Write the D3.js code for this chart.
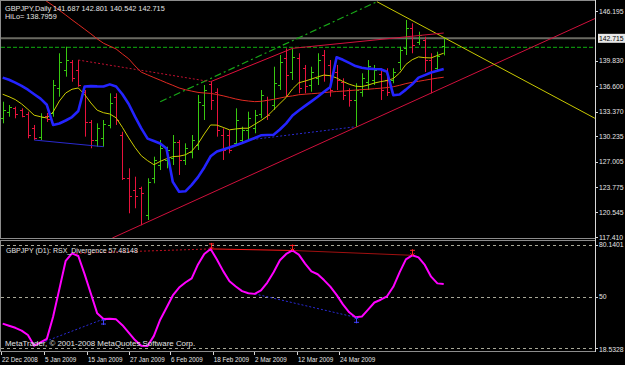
<!DOCTYPE html>
<html>
<head>
<meta charset="utf-8">
<title>GBPJPY Daily</title>
<script src="https://cdn.jsdelivr.net/npm/d3@7"></script>
<style>
  body { margin: 0; background: #000; }
  svg { display: block; }
  text { font-family: "Liberation Sans", Arial, sans-serif; fill: #e4e4e4; }
</style>
</head>
<body>
<svg width="625" height="365"></svg>
<script>
// ---- data ----
var dateLabels = ["22 Dec 2008","5 Jan 2009","15 Jan 2009","27 Jan 2009","6 Feb 2009","18 Feb 2009","2 Mar 2009","12 Mar 2009","24 Mar 2009"];
var dateTickBars = [-0.27, 6.56, 13.37, 20.05, 26.56, 33.33, 39.89, 46.71, 53.38];

var priceTicks = [146.195, 139.830, 136.600, 133.370, 130.235, 127.005, 123.775, 120.545, 117.410];
var bidPrice = 142.715;
var greenLevel = 141.57;

var barOpen = [132.57,133.33,133.84,133.59,133.08,131.29,130.15,132.82,133.20,136.39,
  138.68,139.70,138.68,135.88,132.06,129.76,130.02,131.68,135.24,130.40,
  124.92,123.40,123.65,120.21,124.92,126.58,127.22,127.47,129.51,127.22,
  128.24,129.13,134.22,136.90,135.88,130.40,130.40,129.38,129.76,131.04,
  131.29,133.08,134.86,134.22,136.77,140.21,138.43,140.21,138.94,136.77,
  137.66,140.59,139.32,138.43,137.15,136.13,134.86,135.88,137.15,137.41,
  138.17,137.41,137.41,139.70,141.48,144.03,142.25,142.50,139.95,138.94,141.687];
var barHigh = [134.64,134.22,134.01,133.80,133.37,131.68,133.17,133.20,137.41,140.81,
  141.65,139.95,139.95,136.13,132.31,131.89,132.31,135.71,135.71,130.82,
  126.16,125.09,123.82,124.89,127.64,129.76,128.91,130.40,129.76,129.34,
  130.40,135.50,136.77,137.19,136.35,131.25,131.04,133.80,131.46,133.37,
  133.59,136.13,135.28,139.10,140.59,141.44,141.44,140.81,139.32,139.10,
  140.81,141.23,139.95,139.32,137.62,136.35,136.99,138.26,139.95,139.32,
  138.90,138.90,138.90,141.65,145.05,144.63,143.56,142.92,140.81,141.01,142.801];
var barLow = [131.89,132.73,132.53,132.66,129.98,129.76,129.76,132.06,132.73,135.28,
  137.83,137.19,136.55,130.19,128.71,128.91,128.91,131.25,131.68,124.67,
  120.43,121.07,118.90,119.58,124.25,125.94,126.16,126.58,125.31,126.58,
  127.43,128.49,132.31,133.59,130.19,127.22,128.07,129.13,129.34,129.76,
  130.62,132.53,132.31,133.59,136.13,135.28,137.41,135.71,135.71,135.92,
  136.77,137.19,135.28,136.13,134.86,134.01,131.45,135.28,136.13,136.77,
  134.86,135.37,136.99,138.68,140.59,140.81,141.86,138.43,135.71,138.43,140.542];
var barClose = [133.59,133.97,133.08,132.82,130.40,130.02,132.69,132.44,136.77,139.70,
  139.95,137.66,136.77,132.10,129.76,131.29,131.80,134.48,132.31,124.92,
  122.63,122.63,123.01,124.42,127.22,128.75,128.49,129.51,127.22,128.75,
  129.76,134.60,136.13,134.86,131.04,128.49,128.49,132.31,131.04,132.57,
  132.95,135.50,132.95,137.02,139.70,138.04,140.34,136.39,136.64,138.43,
  139.95,138.04,136.13,137.41,135.50,134.86,136.13,137.66,139.19,138.68,
  136.13,135.88,138.43,141.23,144.03,141.86,143.14,139.95,138.43,140.46,142.715];

var maRed = [null,null,null,null,null,null,147.98,147.42,146.88,146.28,
  145.69,145.07,144.48,143.88,143.28,142.65,142.09,141.72,141.36,140.72,
  140.11,139.20,138.41,138.06,137.72,137.39,137.05,136.73,136.39,136.17,
  135.99,135.83,135.75,135.70,135.56,135.39,135.19,134.99,134.83,134.73,
  134.65,134.69,134.81,134.94,135.11,135.27,135.38,135.53,135.60,135.66,
  135.72,135.80,135.88,135.94,135.99,136.06,136.12,136.18,136.23,136.30,
  136.36,136.44,136.55,136.73,136.95,137.11,137.24,137.38,137.52,137.65,137.76];
var maYellow = [135.59,135.28,134.91,134.36,133.67,132.92,132.73,132.57,133.33,134.73,
  135.75,136.23,136.39,135.57,134.48,133.56,133.24,133.08,132.59,131.38,
  130.04,128.81,127.76,127.13,126.62,127.04,127.38,127.65,127.70,127.88,
  128.33,129.28,130.54,131.68,131.66,131.37,131.06,131.17,131.26,131.26,
  131.76,132.25,132.81,133.61,134.41,135.19,136.27,137.05,137.27,137.53,
  137.80,138.04,137.95,137.67,137.22,136.87,136.62,136.57,136.76,137.02,
  137.20,137.33,137.59,138.30,139.39,139.99,140.35,140.25,140.22,140.53,140.82];
var hiLo = [137.71,137.44,137.08,136.66,136.17,135.60,135.03,134.25,131.68,131.87,
  132.25,132.69,133.46,136.57,136.63,136.59,136.57,136.85,136.58,135.59,
  134.35,132.75,131.24,129.94,129.64,129.32,128.68,124.43,123.18,123.23,
  124.05,125.04,126.27,127.69,128.29,128.55,128.82,129.09,129.38,129.69,
  130.02,130.36,130.40,130.43,131.10,131.89,132.89,133.53,134.11,134.69,
  135.28,135.90,136.52,140.31,139.98,139.58,139.18,138.96,138.85,138.80,
  138.78,138.45,135.47,135.55,136.18,136.86,137.71,138.03,138.36,138.59,138.7959];

var rsx = [34.4,33.2,32.0,30.4,27.8,21.6,23.5,25.5,38.4,54.6,
  70.9,75.2,73.7,63.2,51.8,40.4,37.1,37.3,36.9,33.5,
  29.2,24.9,21.6,21.4,27.3,36.7,43.6,50.8,55.4,58.3,
  60.7,68.8,74.9,77.8,71.7,64.9,59.0,56.0,53.3,52.1,
  51.7,53.8,58.3,64.3,71.2,74.9,76.9,74.5,69.3,64.8,
  63.1,59.7,55.9,51.1,45.6,41.0,38.1,38.5,42.6,46.7,
  48.3,50.3,55.8,64.2,71.7,74.1,72.9,68.5,61.7,57.8,57.48148];
var rsxLevels = [80, 50, 20];
var rsxMin = 18.5328, rsxMax = 80.1401;

// trendlines and divergence lines: [bar, price]
var trendLower = [[17.4, 117.28], [94.0, 145.23]];
var trendGreen = [[25.0, 134.64], [59.4, 147.38]];
var trendYellow = [[59.4, 147.38], [94.0, 132.53]];
var divPriceDotted = [[12, 139.95], [33, 137.19]];
var divPriceA = [[33, 137.19], [46, 141.44]];
var divPriceB = [[46, 141.44], [70, 143.39]];
var divPriceBlueA = [[5, 129.76], [16, 128.91]];
var divPriceBlueB = [[39, 129.76], [56, 131.45]];
var divRsxDotted = [[11, 75.2], [33, 77.8]];
var divRsxA = [[33, 77.8], [46, 76.9]];
var divRsxB = [[46, 76.9], [65, 74.1]];
var divRsxBlueA = [[5, 21.6], [16, 37.1]];
var divRsxBlueB = [[40, 51.7], [56, 38.1]];

// ---- drawing ----
var svg = d3.select("svg");
svg.append("rect").attr("width", 625).attr("height", 365).attr("fill", "#000");

var x = d3.scaleLinear().domain([0, 70]).range([2.7, 443.7]);
var y = d3.scaleLinear().domain([117.41, 146.195]).range([237, 11]);
var yr = d3.scaleLinear().domain([rsxMin, rsxMax]).range([351, 244.9]);

var defs = svg.append("defs");
defs.append("clipPath").attr("id", "clipMain").append("rect")
    .attr("x", 1).attr("y", 1).attr("width", 594).attr("height", 237);
defs.append("clipPath").attr("id", "clipRsx").append("rect")
    .attr("x", 1).attr("y", 241).attr("width", 594).attr("height", 110);

var main = svg.append("g").attr("clip-path", "url(#clipMain)");
var lower = svg.append("g").attr("clip-path", "url(#clipRsx)");

function seg(g, pts, sc, color, width, dash) {
  var l = g.append("line")
      .attr("x1", x(pts[0][0])).attr("y1", sc(pts[0][1]))
      .attr("x2", x(pts[1][0])).attr("y2", sc(pts[1][1]))
      .attr("stroke", color).attr("stroke-width", width || 1);
  if (dash) l.attr("stroke-dasharray", dash);
  return l;
}

// horizontal lines
main.append("line").attr("x1", 1).attr("x2", 595)
    .attr("y1", y(greenLevel)).attr("y2", y(greenLevel))
    .attr("stroke", "#10b010").attr("stroke-dasharray", "4,2");
main.append("line").attr("x1", 1).attr("x2", 595)
    .attr("y1", y(bidPrice)).attr("y2", y(bidPrice))
    .attr("stroke", "#6a6a62").attr("stroke-width", 2);

// OHLC bars
var bars = main.selectAll(".bar")
    .data(barOpen.map(function(o, i) {
      return {i: i, o: o, h: barHigh[i], l: barLow[i], c: barClose[i]};
    }))
    .enter().append("g")
    .attr("class", "bar")
    .attr("stroke", function(d) { return d.c >= d.o ? "#38c810" : "#e8123c"; })
    .attr("stroke-width", 1);

bars.append("line")
    .attr("x1", function(d) { return Math.round(x(d.i)) + 0.5; })
    .attr("x2", function(d) { return Math.round(x(d.i)) + 0.5; })
    .attr("y1", function(d) { return y(d.h); })
    .attr("y2", function(d) { return y(d.l); });
bars.append("line")
    .attr("x1", function(d) { return Math.round(x(d.i)) - 2; })
    .attr("x2", function(d) { return Math.round(x(d.i)); })
    .attr("y1", function(d) { return Math.round(y(d.o)) + 0.5; })
    .attr("y2", function(d) { return Math.round(y(d.o)) + 0.5; });
bars.append("line")
    .attr("x1", function(d) { return Math.round(x(d.i)) + 1; })
    .attr("x2", function(d) { return Math.round(x(d.i)) + 3; })
    .attr("y1", function(d) { return Math.round(y(d.c)) + 0.5; })
    .attr("y2", function(d) { return Math.round(y(d.c)) + 0.5; });

// indicator lines
var priceLine = d3.line()
    .defined(function(d) { return d != null; })
    .x(function(d, i) { return x(i); })
    .y(function(d) { return y(d); });

main.append("path").attr("d", priceLine(maRed))
    .attr("fill", "none").attr("stroke", "#e02a22").attr("stroke-width", 1);
main.append("path").attr("d", priceLine(maYellow))
    .attr("fill", "none").attr("stroke", "#cccc00").attr("stroke-width", 1);
main.append("path").attr("d", priceLine(hiLo))
    .attr("fill", "none").attr("stroke", "#2424ff").attr("stroke-width", 2.6)
    .attr("stroke-linejoin", "round");

// trendlines
seg(main, trendLower, y, "#d0103c", 1);
seg(main, trendGreen, y, "#18a818", 1.2, "7,3,2,3");
seg(main, trendYellow, y, "#c8c800", 1);

// divergence lines on price
seg(main, divPriceDotted, y, "#c01030", 1, "2,2");
seg(main, divPriceA, y, "#e0103c", 1);
seg(main, divPriceB, y, "#d0103c", 1);
seg(main, divPriceBlueA, y, "#2a2ad0", 1);
seg(main, divPriceBlueB, y, "#2a2ad0", 1, "2,2");

// RSX panel
lower.selectAll(".lvl").data(rsxLevels).enter().append("line")
    .attr("x1", 1).attr("x2", 595)
    .attr("y1", function(d) { return Math.round(yr(d)) + 0.5; })
    .attr("y2", function(d) { return Math.round(yr(d)) + 0.5; })
    .attr("stroke", "#a8a898").attr("stroke-dasharray", "3,3");

seg(lower, divRsxDotted, yr, "#c01020", 1, "2,2");
seg(lower, divRsxA, yr, "#ff1818", 1);
seg(lower, divRsxB, yr, "#a01010", 1);
seg(lower, divRsxBlueA, yr, "#2a2ad8", 1, "2,2");
seg(lower, divRsxBlueB, yr, "#2a2ad8", 1, "2,2");

var rsxLine = d3.line()
    .x(function(d, i) { return x(i); })
    .y(function(d) { return yr(d); });
lower.append("path").attr("d", rsxLine(rsx))
    .attr("fill", "none").attr("stroke", "#ff00ff").attr("stroke-width", 2)
    .attr("stroke-linejoin", "round");

// divergence markers
[divRsxA[0], divRsxA[1], divRsxB[1]].forEach(function(p) {
  var cx = Math.round(x(p[0])) + 0.5, cy = yr(p[1]);
  lower.append("path")
      .attr("d", "M" + (cx - 2.5) + "," + (cy - 5) + "h5M" + cx + "," + (cy - 6) + "v6M" +
            (cx - 2) + "," + (cy - 2) + "l2,2l2,-2")
      .attr("fill", "none").attr("stroke", "#ff2020").attr("stroke-width", 1);
});
[divRsxBlueA[1], divRsxBlueB[1]].forEach(function(p) {
  var cx = Math.round(x(p[0])) + 0.5, cy = yr(p[1]);
  lower.append("path")
      .attr("d", "M" + (cx - 2.5) + "," + (cy + 5) + "h5M" + cx + "," + (cy + 6) + "v-6M" +
            (cx - 2) + "," + (cy + 2) + "l2,-2l2,2")
      .attr("fill", "none").attr("stroke", "#4040ff").attr("stroke-width", 1);
});

// frames
svg.append("rect").attr("x", 0.5).attr("y", 0.5).attr("width", 595).attr("height", 238)
    .attr("fill", "none").attr("stroke", "#8c8c8c");
svg.append("rect").attr("x", 0.5).attr("y", 240.5).attr("width", 595).attr("height", 111)
    .attr("fill", "none").attr("stroke", "#8c8c8c");
svg.append("line").attr("x1", 595.5).attr("x2", 595.5).attr("y1", 0).attr("y2", 352)
    .attr("stroke", "#d8d8d8");

// price axis
var pAxis = svg.append("g");
pAxis.selectAll(".pt").data(priceTicks).enter().append("line")
    .attr("x1", 596).attr("x2", 598)
    .attr("y1", function(d) { return Math.round(y(d)) + 0.5; })
    .attr("y2", function(d) { return Math.round(y(d)) + 0.5; })
    .attr("stroke", "#d8d8d8");
pAxis.selectAll(".pl").data(priceTicks).enter().append("text")
    .attr("x", 599).attr("y", function(d) { return y(d) + 2.5; })
    .style("font-size", "6.8px")
    .text(function(d) { return d.toFixed(3); });
pAxis.append("rect").attr("x", 598).attr("y", y(bidPrice) - 4.5)
    .attr("width", 27).attr("height", 9).attr("fill", "#e8e8e8");
pAxis.append("text").attr("x", 599).attr("y", y(bidPrice) + 2.5)
    .style("font-size", "6.8px").style("fill", "#000")
    .text(bidPrice.toFixed(3));

// RSX axis: window max/min labels (the 80/20 level labels sit underneath them)
var rAxis = svg.append("g");
rsxLevels.forEach(function(v) {
  rAxis.append("line").attr("x1", 596).attr("x2", 598)
      .attr("y1", Math.round(yr(v)) + 0.5).attr("y2", Math.round(yr(v)) + 0.5)
      .attr("stroke", "#d8d8d8");
});
[[rsxMax, rsxMax.toFixed(4)], [50, "50"], [rsxMin, rsxMin.toFixed(4)]].forEach(function(t) {
  var ty = Math.min(yr(t[0]), 349);
  rAxis.append("text").attr("x", 599).attr("y", ty + 2.5)
      .style("font-size", "6.8px").text(t[1]);
});

// time axis
var tAxis = svg.append("g");
tAxis.selectAll(".tt").data(dateTickBars).enter().append("line")
    .attr("x1", function(d) { return Math.round(x(d)) + 0.5; })
    .attr("x2", function(d) { return Math.round(x(d)) + 0.5; })
    .attr("y1", 352).attr("y2", 355)
    .attr("stroke", "#d8d8d8");
tAxis.selectAll(".tl").data(dateTickBars).enter().append("text")
    .attr("x", function(d) { return x(d) + 1; })
    .attr("y", 361.5)
    .style("font-size", "6.3px")
    .text(function(d, i) { return dateLabels[i]; });

// captions
var last = barOpen.length - 1;
svg.append("text").attr("x", 5).attr("y", 10.5).style("font-size", "7.3px")
    .text("GBPJPY,Daily  " + barOpen[last].toFixed(3) + " " + barHigh[last].toFixed(3) + " " +
          barLow[last].toFixed(3) + " " + barClose[last].toFixed(3));
svg.append("text").attr("x", 5).attr("y", 19).style("font-size", "7.3px")
    .text("HiLo= " + hiLo[last].toFixed(4));
svg.append("text").attr("x", 6).attr("y", 252.5).style("font-size", "7px")
    .text("GBPJPY (D1):  RSX_Divergence " + rsx[last]);
svg.append("text").attr("x", 5).attr("y", 346).style("font-size", "7.9px")
    .text("MetaTrader, \u00a9 2001-2008 MetaQuotes Software Corp.");
</script>
</body>
</html>
